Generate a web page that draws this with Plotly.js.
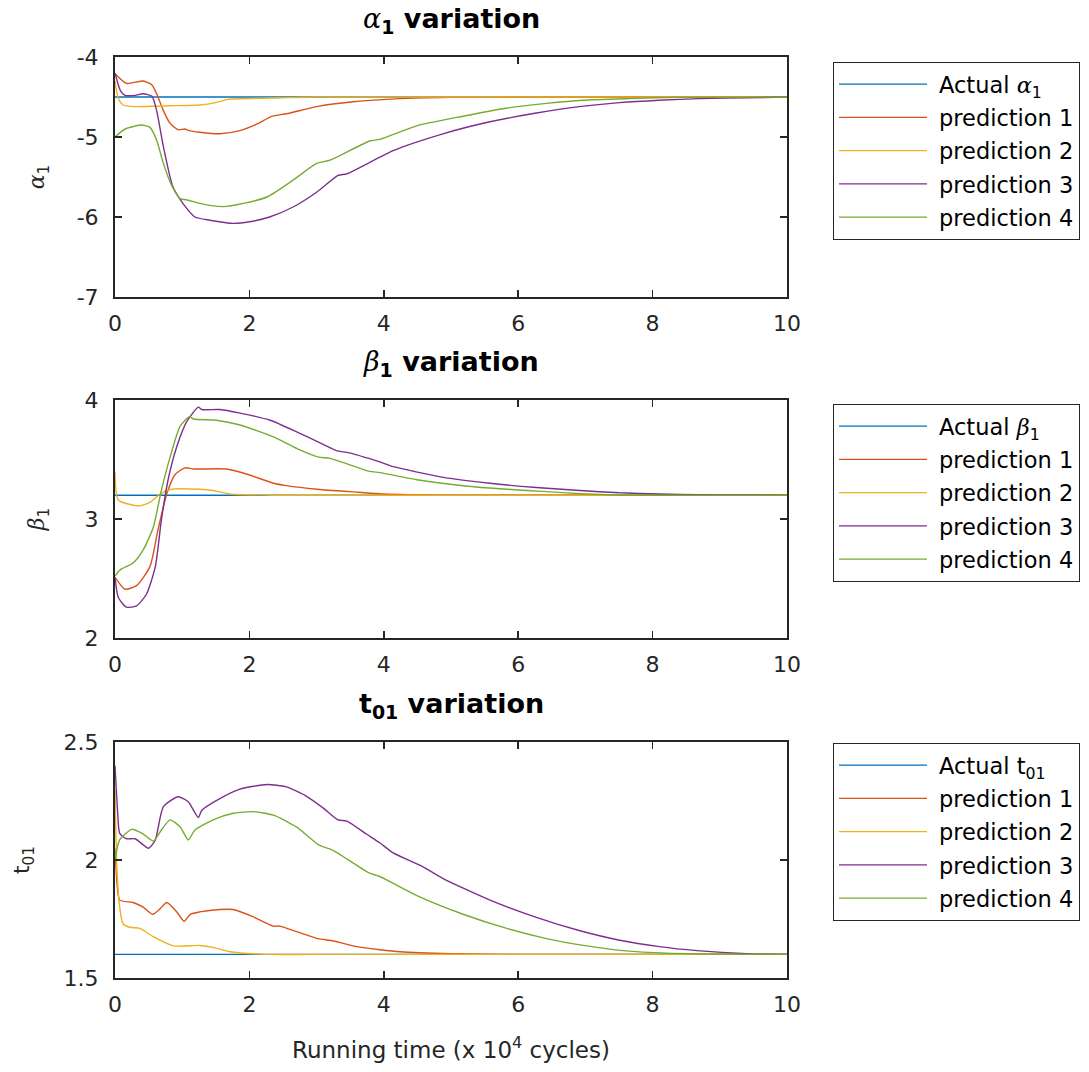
<!DOCTYPE html>
<html><head><meta charset="utf-8">
<script src="https://cdn.plot.ly/plotly-3.0.1.min.js"></script>
<style>html,body{margin:0;padding:0;background:#fff}</style>
</head><body><div id="chart" style="width:1089px;height:1072px"></div>
<script>
// ---------- data (x in units of 10^4 cycles) ----------
const xTicks = [0, 2, 4, 6, 8, 10];
const xTickText = ['0', '2', '4', '6', '8', '10'];

// alpha_1
const a1Ticks = [-7, -6, -5, -4];
const a1TickText = ['-7', '-6', '-5', '-4'];
const a1ActualX = [0, 10];
const a1ActualY = [-4.5, -4.5];
const a1P1X = [0, 0.17, 0.42, 0.55, 0.62, 0.72, 0.82, 0.94, 1.04, 1.1, 1.26, 1.56, 1.86, 2.11, 2.34, 2.55, 3.0, 3.54, 4.24, 5.0, 6, 10];
const a1P1Y = [-4.21, -4.33, -4.30, -4.35, -4.46, -4.67, -4.83, -4.91, -4.90, -4.92, -4.94, -4.96, -4.92, -4.84, -4.74, -4.71, -4.62, -4.56, -4.52, -4.505, -4.5, -4.5];
const a1P2X = [0, 0.05, 0.12, 0.3, 0.8, 1.26, 1.5, 1.68, 2.5, 3.0, 10];
const a1P2Y = [-4.3, -4.52, -4.60, -4.62, -4.61, -4.60, -4.57, -4.53, -4.51, -4.5, -4.5];
const a1P3X = [0, 0.08, 0.15, 0.3, 0.42, 0.55, 0.62, 0.72, 0.86, 1.01, 1.19, 1.41, 1.76, 2.0, 2.3, 2.65, 3.0, 3.32, 3.45, 4.14, 4.88, 5.58, 6.27, 6.91, 7.51, 8.1, 8.7, 9.4, 10];
const a1P3Y = [-4.2, -4.42, -4.48, -4.48, -4.46, -4.49, -4.67, -5.12, -5.62, -5.83, -6.0, -6.04, -6.08, -6.06, -6.0, -5.875, -5.69, -5.48, -5.46, -5.17, -4.96, -4.81, -4.70, -4.62, -4.57, -4.54, -4.52, -4.51, -4.5];
const a1P4X = [0, 0.15, 0.4, 0.52, 0.62, 0.72, 0.84, 0.97, 1.09, 1.26, 1.61, 1.91, 2.26, 2.65, 3.0, 3.2, 3.79, 3.94, 4.49, 5.18, 5.82, 6.42, 6.96, 7.66, 8.4, 10];
const a1P4Y = [-5.0, -4.90, -4.85, -4.88, -5.04, -5.33, -5.6, -5.77, -5.79, -5.83, -5.87, -5.83, -5.75, -5.54, -5.33, -5.29, -5.05, -5.03, -4.86, -4.74, -4.64, -4.58, -4.54, -4.52, -4.505, -4.5];

// beta_1
const b1Ticks = [2, 3, 4];
const b1TickText = ['2', '3', '4'];
const b1ActualX = [0, 10];
const b1ActualY = [3.2, 3.2];
const b1P1X = [0, 0.15, 0.32, 0.52, 0.64, 0.77, 0.89, 1.04, 1.17, 1.66, 2.0, 2.36, 2.55, 3.0, 3.5, 3.99, 5, 10];
const b1P1Y = [2.51, 2.41, 2.44, 2.60, 2.91, 3.21, 3.37, 3.43, 3.42, 3.42, 3.37, 3.30, 3.28, 3.25, 3.23, 3.21, 3.2, 3.2];
const b1P2X = [0, 0.05, 0.35, 0.52, 0.67, 0.84, 1.26, 1.46, 1.71, 2.33, 10];
const b1P2Y = [3.40, 3.16, 3.11, 3.14, 3.21, 3.25, 3.25, 3.24, 3.21, 3.20, 3.20];
const b1P3X = [0, 0.05, 0.17, 0.32, 0.47, 0.60, 0.69, 0.79, 0.92, 1.07, 1.24, 1.29, 1.56, 1.86, 2.31, 2.75, 3.05, 3.32, 3.45, 3.94, 4.14, 4.89, 5.58, 6.27, 6.92, 7.51, 8.1, 8.7, 10];
const b1P3Y = [2.51, 2.34, 2.26, 2.27, 2.37, 2.60, 2.99, 3.33, 3.61, 3.82, 3.94, 3.92, 3.92, 3.89, 3.83, 3.72, 3.64, 3.57, 3.56, 3.48, 3.44, 3.35, 3.30, 3.265, 3.24, 3.22, 3.21, 3.205, 3.2];
const b1P4X = [0, 0.07, 0.27, 0.42, 0.57, 0.69, 0.82, 0.97, 1.11, 1.17, 1.51, 1.86, 2.36, 2.75, 3.03, 3.2, 3.79, 3.94, 4.49, 5.18, 5.83, 6.42, 7.02, 7.6, 10];
const b1P4Y = [2.52, 2.57, 2.63, 2.74, 2.93, 3.24, 3.52, 3.78, 3.86, 3.84, 3.83, 3.79, 3.69, 3.58, 3.52, 3.51, 3.40, 3.39, 3.33, 3.28, 3.25, 3.23, 3.21, 3.20, 3.20];

// t_01
const tTicks = [1.5, 2, 2.5];
const tTickText = ['1.5', '2', '2.5'];
const tActualX = [0, 10];
const tActualY = [1.6, 1.6];
const tP1X = [0, 0.03, 0.07, 0.27, 0.42, 0.56, 0.66, 0.77, 0.92, 1.03, 1.12, 1.26, 1.56, 1.76, 2.05, 2.35, 2.45, 3.0, 3.25, 3.6, 3.94, 4.24, 5.0, 6, 10];
const tP1Y = [2.05, 1.9, 1.83, 1.82, 1.80, 1.77, 1.79, 1.82, 1.78, 1.74, 1.77, 1.78, 1.79, 1.79, 1.76, 1.72, 1.72, 1.668, 1.657, 1.633, 1.62, 1.611, 1.603, 1.6, 1.6];
const tP2X = [0, 0.03, 0.07, 0.12, 0.22, 0.37, 0.57, 0.87, 1.26, 1.46, 1.71, 2.26, 3, 10];
const tP2Y = [2.3, 1.95, 1.80, 1.73, 1.715, 1.71, 1.675, 1.636, 1.638, 1.63, 1.611, 1.60, 1.6, 1.6];
const tP3X = [0, 0.04, 0.07, 0.17, 0.30, 0.50, 0.60, 0.72, 0.94, 1.09, 1.24, 1.29, 1.56, 1.86, 2.26, 2.55, 2.85, 3.1, 3.32, 3.45, 3.74, 3.94, 4.14, 4.59, 4.89, 5.58, 6.27, 6.92, 7.51, 8.1, 8.66, 9.4, 10];
const tP3Y = [2.40, 2.2, 2.113, 2.09, 2.09, 2.05, 2.085, 2.226, 2.268, 2.247, 2.18, 2.21, 2.26, 2.30, 2.32, 2.31, 2.27, 2.22, 2.17, 2.165, 2.11, 2.073, 2.03, 1.97, 1.92, 1.83, 1.757, 1.70, 1.66, 1.633, 1.616, 1.603, 1.6];
const tP4X = [0, 0.07, 0.25, 0.42, 0.57, 0.69, 0.82, 0.97, 1.09, 1.19, 1.46, 1.76, 2.06, 2.36, 2.70, 3.03, 3.25, 3.79, 3.94, 4.51, 5.18, 5.83, 6.42, 7.02, 7.56, 8.21, 10];
const tP4Y = [2.0, 2.085, 2.13, 2.11, 2.08, 2.127, 2.17, 2.14, 2.085, 2.127, 2.17, 2.198, 2.205, 2.19, 2.14, 2.064, 2.04, 1.944, 1.93, 1.847, 1.77, 1.71, 1.667, 1.636, 1.616, 1.605, 1.6];

const seriesNames = ['prediction 1', 'prediction 2', 'prediction 3', 'prediction 4'];

// ---------- styling ----------
const W = 1089, H = 1072;
const FONT = 'DejaVu Sans';
const INK = '#262626';
const colors = ['#0072BD', '#D95319', '#EDB120', '#7E2F8E', '#77AC30'];
const greek = s => '<span style="font-family:DejaVu Serif"><i>' + s + '</i></span>';

const xDom = [115 / W, 787 / W];
const yDoms = [
  [1 - 297 / H, 1 - 57 / H],
  [1 - 638 / H, 1 - 400 / H],
  [1 - 978 / H, 1 - 742 / H]
];

function mkTrace(x, y, name, ci, k, legendId) {
  return {
    x: x, y: y, name: name, type: 'scatter', mode: 'lines',
    line: {color: colors[ci], width: 1.4, shape: ci === 0 ? 'linear' : 'spline', smoothing: 0.6},
    xaxis: k === 1 ? 'x' : 'x' + k,
    yaxis: k === 1 ? 'y' : 'y' + k,
    legend: legendId, legendgroup: legendId + '_' + ci,
    hoverinfo: 'skip'
  };
}

const panels = [
  {actual: [a1ActualX, a1ActualY], preds: [[a1P1X, a1P1Y], [a1P2X, a1P2Y], [a1P3X, a1P3Y], [a1P4X, a1P4Y]],
   actualName: 'Actual ' + greek('α') + '<sub>1</sub>'},
  {actual: [b1ActualX, b1ActualY], preds: [[b1P1X, b1P1Y], [b1P2X, b1P2Y], [b1P3X, b1P3Y], [b1P4X, b1P4Y]],
   actualName: 'Actual ' + greek('β') + '<sub>1</sub>'},
  {actual: [tActualX, tActualY], preds: [[tP1X, tP1Y], [tP2X, tP2Y], [tP3X, tP3Y], [tP4X, tP4Y]],
   actualName: 'Actual t<sub>01</sub>'}
];

const traces = [];
panels.forEach((p, i) => {
  const k = i + 1;
  const lg = k === 1 ? 'legend' : 'legend' + k;
  traces.push(mkTrace(p.actual[0], p.actual[1], p.actualName, 0, k, lg));
  p.preds.forEach((s, j) => traces.push(mkTrace(s[0], s[1], seriesNames[j], j + 1, k, lg)));
});

function xAxis(k) {
  const a = {
    domain: xDom, range: [0, 10], anchor: k === 1 ? 'y' : 'y' + k,
    tickvals: xTicks, ticktext: xTickText,
    ticks: 'inside', ticklen: 7, tickwidth: 1.5, tickcolor: INK,
    showline: true, linecolor: INK, linewidth: 2, mirror: 'ticks',
    showgrid: false, zeroline: false, ticklabelstandoff: 6,
    tickfont: {family: FONT, size: 22, color: INK}
  };
  if (k === 3) a.title = {text: 'Running time (x 10<sup>4</sup> cycles)', font: {family: FONT, size: 23, color: INK}, standoff: 25};
  return a;
}
function yAxis(k, range, tv, tt, title, standoff) {
  return {
    domain: yDoms[k - 1], range: range, anchor: k === 1 ? 'x' : 'x' + k,
    tickvals: tv, ticktext: tt,
    ticks: 'inside', ticklen: 7, tickwidth: 1.5, tickcolor: INK,
    showline: true, linecolor: INK, linewidth: 2, mirror: 'ticks',
    showgrid: false, zeroline: false, ticklabelstandoff: 10,
    tickfont: {family: FONT, size: 22, color: INK},
    title: {text: title, font: {family: FONT, size: 22, color: INK}, standoff: standoff}
  };
}
function legendCfg(topPx) {
  return {
    x: 833 / W, y: 1 - topPx / H, xanchor: 'left', yanchor: 'top',
    bordercolor: INK, borderwidth: 1, bgcolor: '#ffffff',
    font: {family: FONT, size: 22.5, color: '#000'},
    itemwidth: 95, tracegroupgap: 1, traceorder: 'grouped'
  };
}
function titleAnn(text, yTopPx) {
  return {
    text: '<b>' + text + '</b>', xref: 'paper', yref: 'paper',
    x: (xDom[0] + xDom[1]) / 2, y: 1 - yTopPx / H, xanchor: 'center', yanchor: 'bottom',
    showarrow: false, font: {family: FONT, size: 27, color: '#000'}
  };
}

const layout = {
  width: W, height: H,
  margin: {l: 0, r: 0, t: 0, b: 0},
  paper_bgcolor: '#fff', plot_bgcolor: '#fff',
  showlegend: true,
  xaxis: xAxis(1), xaxis2: xAxis(2), xaxis3: xAxis(3),
  yaxis: yAxis(1, [-7, -4], a1Ticks, a1TickText, greek('α') + '<sub>1</sub>', 26),
  yaxis2: yAxis(2, [2, 4], b1Ticks, b1TickText, greek('β') + '<sub>1</sub>', 34),
  yaxis3: yAxis(3, [1.5, 2.5], tTicks, tTickText, 't<sub>01</sub>', 28),
  legend: legendCfg(62), legend2: legendCfg(404), legend3: legendCfg(743),
  annotations: [
    titleAnn('<span style="font-weight:normal">' + greek('α') + '</span><sub>1</sub> variation', 40),
    titleAnn('<span style="font-weight:normal">' + greek('β') + '</span><sub>1</sub> variation', 383),
    titleAnn('t<sub>01</sub> variation', 725)
  ]
};

Plotly.newPlot('chart', traces, layout, {staticPlot: true, displayModeBar: false}).then(() => {
  document.querySelectorAll('.legendlines path').forEach(p => p.setAttribute('d', 'M5,0h88'));
});
</script></body></html>
